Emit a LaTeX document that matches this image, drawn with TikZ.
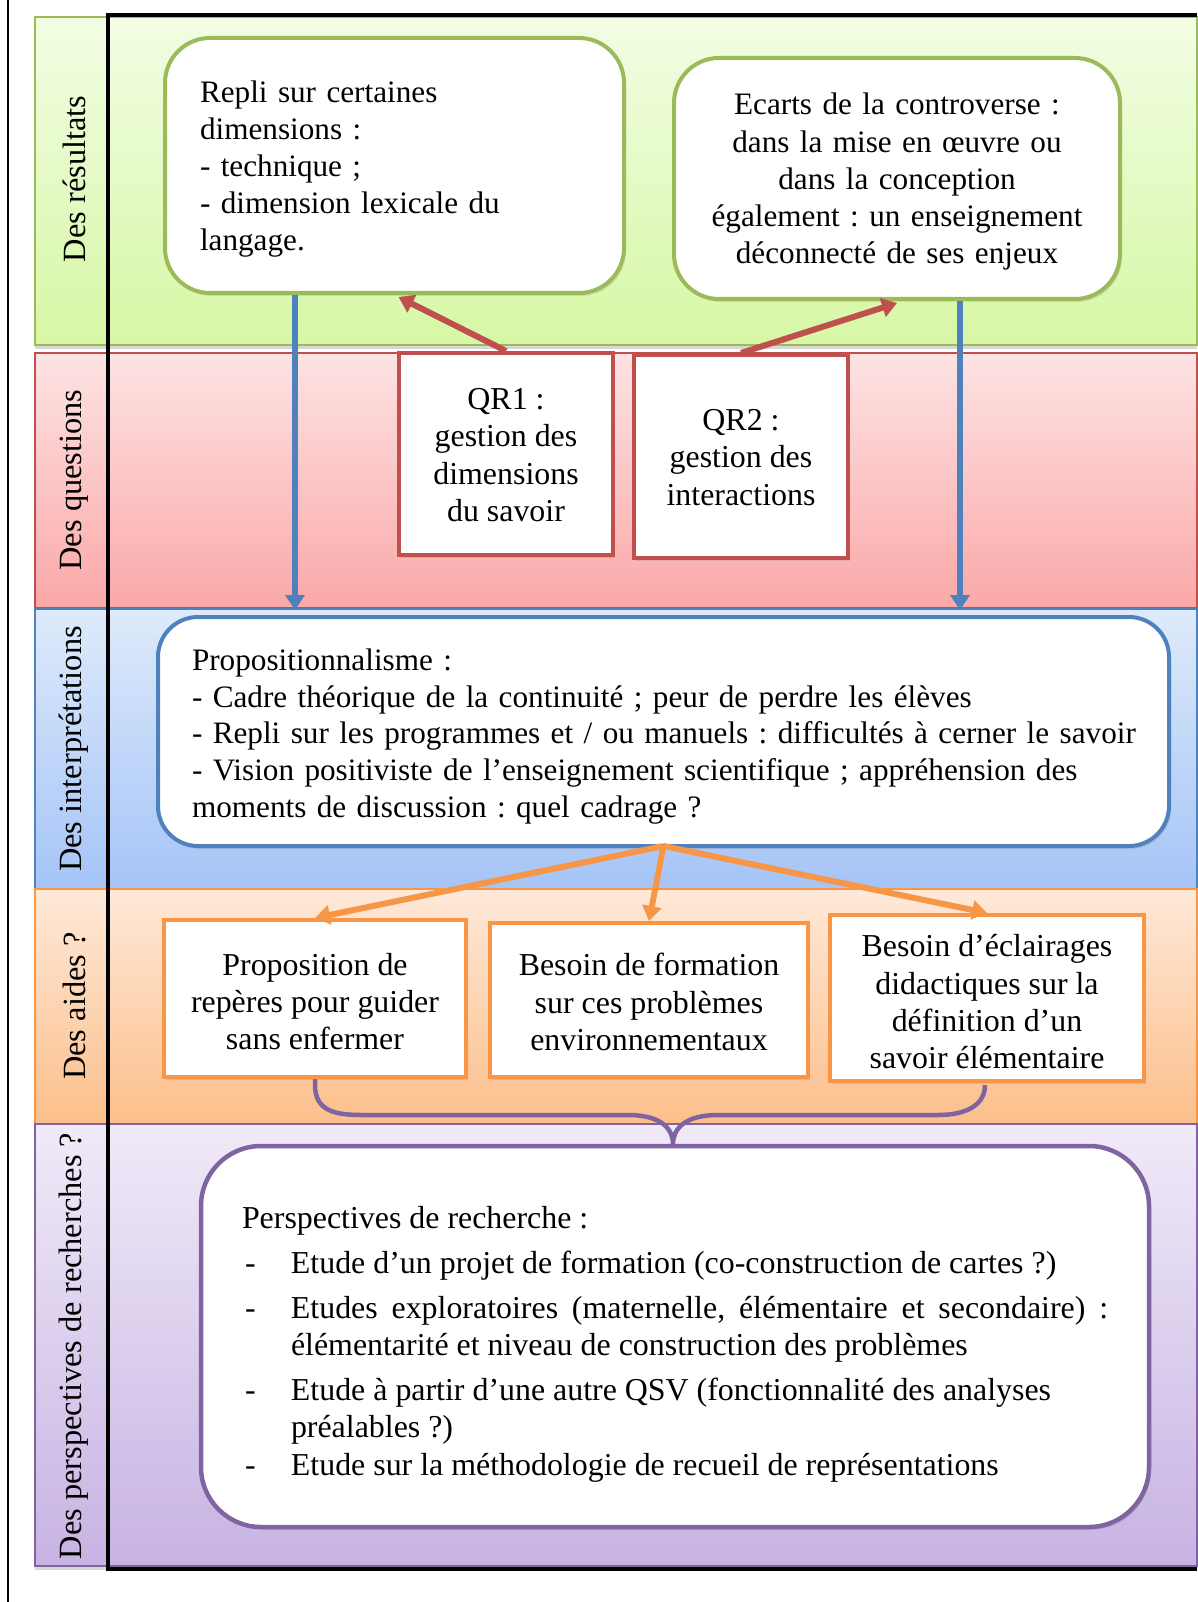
\documentclass[tikz,border=0pt]{standalone}
\usepackage{fontspec}
\setmainfont{Liberation Serif}
\usetikzlibrary{arrows.meta,shadows,calc}
\definecolor{gB}{HTML}{9BBB59}
\definecolor{rB}{HTML}{C0504D}
\definecolor{bB}{HTML}{4F81BD}
\definecolor{oB}{HTML}{F79646}
\definecolor{pB}{HTML}{8064A2}
\definecolor{gT}{HTML}{F2FDE4}\definecolor{gU}{HTML}{D7F7A5}
\definecolor{rT}{HTML}{FDE3E3}\definecolor{rU}{HTML}{FBA8A8}
\definecolor{bT}{HTML}{DEEAFB}\definecolor{bU}{HTML}{A5C4F7}
\definecolor{oT}{HTML}{FEE9D9}\definecolor{oU}{HTML}{FCBF8B}
\definecolor{pT}{HTML}{F0EAF8}\definecolor{pU}{HTML}{C7B3E3}
\begin{document}
\begin{tikzpicture}[x=1pt,y=-1pt,
 txt/.style={font=\fontsize{31.9}{37.3}\selectfont\frenchspacing, text=black, inner sep=0pt},
 txts/.style={font=\fontsize{31.2}{37}\selectfont\frenchspacing, text=black, inner sep=0pt},
 band/.style={line width=1.5pt, drop shadow={opacity=0.3,shadow xshift=0pt,shadow yshift=-4pt}},
 shad/.style={drop shadow={opacity=0.22,shadow xshift=2pt,shadow yshift=-3pt}},
 rbox/.style={rounded corners=#1, fill=white, line width=4pt, inner sep=0pt, shad},
 sbox/.style={fill=white, line width=4pt, inner sep=0pt, shad},
 lab/.style={font=\fontsize{32.4}{37.3}\selectfont\frenchspacing, rotate=90},
 tipA/.tip={Triangle[length=15pt,width=19pt]},
 conn/.style={line width=6pt, -tipA},
]
\useasboundingbox (0,0) rectangle (1197,1602);
\fill[white] (0,0) rectangle (1197,1602);

% bands
\draw[band, draw=gB, top color=gT, bottom color=gU] (35,17) rectangle (1197,345);
\draw[band, draw=rB, top color=rT, bottom color=rU] (35,353) rectangle (1197,608);
\draw[band, draw=bB, top color=bT, bottom color=bU] (35,609) rectangle (1197,889);
\draw[band, draw=oB, top color=oT, bottom color=oU] (35,889) rectangle (1197,1124);
\draw[band, draw=pB, top color=pT, bottom color=pU] (35,1124) rectangle (1197,1566);

% frame lines
\draw[line width=2pt] (8,0) -- (8,1602);
\draw[line width=4.5pt] (1197,15) -- (108,15) -- (108,1569) -- (1197,1569);

% labels
\node[lab] (L1) at (74,179) {Des résultats};
\node[lab] (L2) at (74,480) {Des questions};
\node[lab] (L3) at (74,749) {Des interprétations};
\node[lab] (L4) at (74,1006) {Des aides ?};
\node[lab] (L5) at (74,1346) {Des perspectives de recherches ?};

% green boxes
\node[rbox=45pt, draw=gB, minimum width=459pt, minimum height=255pt] (A) at (394.5,165.5) {};
\node[txts, text width=389pt, align=left] (At) at ([yshift=-4pt]A.center)
 {Repli sur certaines\\dimensions :\\- technique ;\\- dimension lexicale du\\langage.};
\node[rbox=45pt, draw=gB, minimum width=446pt, minimum height=241pt] (B) at (897,178.5) {};
\node[txts, text width=420pt, align=center] (Bt) at ([yshift=-3pt]B.center)
 {Ecarts de la controverse :\\dans la mise en œuvre ou\\dans la conception\\également : un enseignement\\déconnecté de ses enjeux};

% red boxes
\node[sbox, draw=rB, minimum width=214pt, minimum height=202pt] (Q1) at (506,454) {};
\node[txt, align=center] (Q1t) at ([yshift=-1pt]Q1.center) {QR1 :\\gestion des\\dimensions\\du savoir};
\node[sbox, draw=rB, minimum width=214pt, minimum height=203pt] (Q2) at (741,456.5) {};
\node[txt, align=center] (Q2t) at ([yshift=-1pt]Q2.center) {QR2 :\\gestion des\\interactions};

% blue box
\node[rbox=40pt, draw=bB, minimum width=1011pt, minimum height=229pt] (P) at (663.5,731.5) {};
\node[txts, font=\fontsize{31.2}{36.8}\selectfont\frenchspacing, text width=950pt, align=left] (Pt) at ([xshift=3.5pt,yshift=-5pt]P.center)
 {Propositionnalisme :\\
 - Cadre théorique de la continuité ; peur de perdre les élèves\\
 - Repli sur les programmes et / ou manuels : difficultés à cerner le savoir\\
 - Vision positiviste de l’enseignement scientifique ; appréhension des\\
 moments de discussion : quel cadrage ?};

% orange boxes
\node[sbox, draw=oB, minimum width=302pt, minimum height=157pt] (O1) at (315,998.5) {};
\node[txt, align=center] (O1t) at ([yshift=-3pt]O1.center) {Proposition de\\repères pour guider\\sans enfermer};
\node[sbox, draw=oB, minimum width=318pt, minimum height=154pt] (O2) at (649,1000) {};
\node[txt, align=center] (O2t) at ([yshift=-2pt]O2.center) {Besoin de formation\\sur ces problèmes\\environnementaux};
\node[sbox, draw=oB, minimum width=314pt, minimum height=166pt] (O3) at (987,998) {};
\node[txt, align=center] (O3t) at ([yshift=-4pt]O3.center) {Besoin d’éclairages\\didactiques sur la\\définition d’un\\savoir élémentaire};

% purple box
\node[rbox=60pt, draw=pB, line width=4.5pt, minimum width=948pt, minimum height=381pt] (R) at (675,1336.5) {};
\node[txt, text width=866pt, align=justify] (Rt) at ([yshift=-8pt]R.center)
 {\parskip=7.5pt
 Perspectives de recherche :\par
 \hangindent=49pt\hangafter=1\noindent\makebox[49pt][l]{\hspace{3pt}-}Etude d’un projet de formation (co-construction de cartes ?)\par
 \hangindent=49pt\hangafter=1\noindent\makebox[49pt][l]{\hspace{3pt}-}Etudes exploratoires (maternelle, élémentaire et secondaire)~:\break
 élémentarité et niveau de construction des problèmes\par
 \hangindent=49pt\hangafter=1\noindent\makebox[49pt][l]{\hspace{3pt}-}Etude à partir d’une autre QSV (fonctionnalité des analyses\hfil\break
 préalables ?)\par
 \parskip=0pt
 \hangindent=49pt\hangafter=1\noindent\makebox[49pt][l]{\hspace{3pt}-}Etude sur la méthodologie de recueil de représentations\par};

% blue arrows
\coordinate (bx1) at (295,0);
\coordinate (bx2) at (960,0);
\draw[conn, color=bB] (A.south -| bx1) -- ([yshift=5pt]P.north -| bx1);
\draw[conn, color=bB] (B.south -| bx2) -- ([yshift=5pt]P.north -| bx2);

% red arrows
\draw[conn, color=rB] (Q1.north) -- ([xshift=4pt,yshift=-2pt]A.south);
\draw[conn, color=rB] (Q2.north) -- ([yshift=-2pt]B.south);

% orange arrows
\draw[conn, color=oB] ([yshift=2pt]P.south) -- (O1.north);
\draw[conn, color=oB] ([yshift=2pt]P.south) -- (O2.north);
\draw[conn, color=oB] ([yshift=2pt]P.south) -- (O3.north);

% brace
\coordinate (tip) at (673,1144);
\draw[draw=pB, line width=4.5pt, line join=round]
 (O1.south) -- ++(0,6) .. controls ++(0,26) and (335,1115) .. (362,1115)
 -- (628,1115) .. controls (660,1115) and (673,1128) .. (tip)
 .. controls (673,1128) and (686,1115) .. (718,1115)
 -- (938,1115) .. controls (968,1115) and (985,1104) .. ([yshift=-2pt]O3.south -| 985,0);
\end{tikzpicture}
\end{document}
